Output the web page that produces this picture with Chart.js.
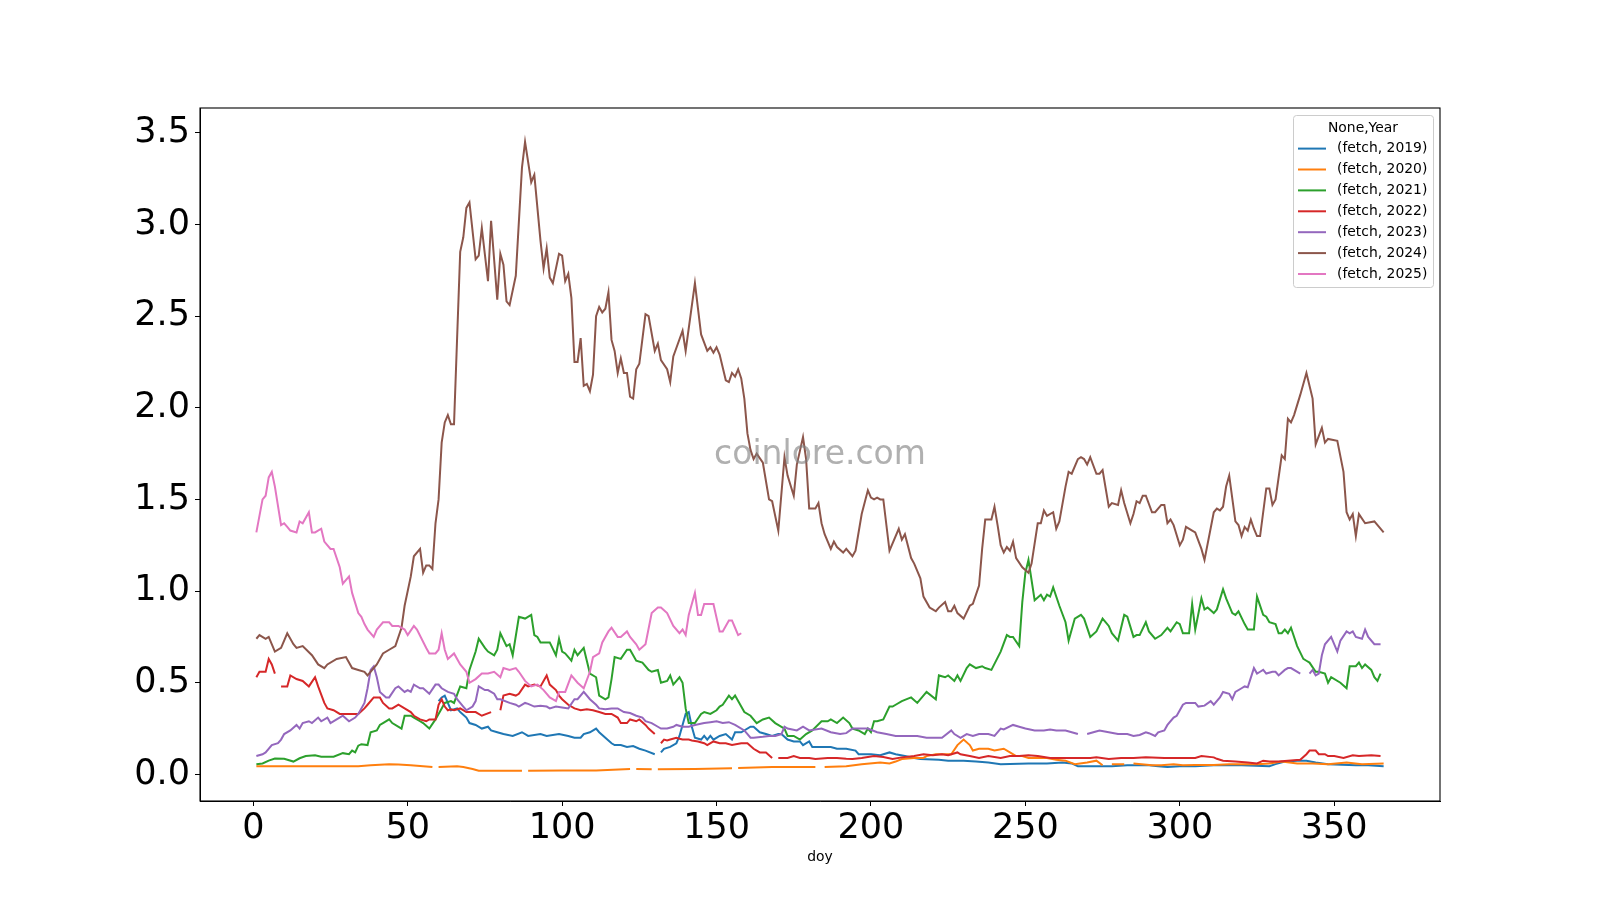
<!DOCTYPE html>
<html>
<head>
<meta charset="utf-8">
<script src="https://cdn.jsdelivr.net/npm/chart.js@4.4.1/dist/chart.umd.min.js"></script>
<style>
body{margin:0;background:#fff;}
canvas{display:block;}
</style>
</head>
<body>
<canvas id="mainChart" width="1600" height="900"></canvas>
<script>

/* DATA (day of year, value); null = missing day */

const xTicks = [0,50,100,150,200,250,300,350];
const yTicks = [0,0.5,1,1.5,2,2.5,3,3.5];

const seriesNames = ["(fetch, 2019)","(fetch, 2020)","(fetch, 2021)","(fetch, 2022)","(fetch, 2023)","(fetch, 2024)","(fetch, 2025)"];

const days2019 = [60,61,62,63,64,66,67,69,70,72,74,76,77,79,81,84,87,89,93,95,99,102,104,106,107,109,111,112,114,116,117,119,121,123,125,127,130,131,132,133,135,137,138,139,140,141,142,143,145,146,147,148,149,151,153,155,156,158,161,162,164,166,168,170,171,173,175,177,178,180,181,183,187,189,192,195,196,200,203,206,208,211,214,216,222,225,230,234,238,242,251,257,262,265,267,274,278,283,290,293,296,300,305,311,320,329,331,334,338,341,344,348,357,361,366];
const fetch2019 = [0.40,0.42,0.43,0.39,0.35,0.36,0.34,0.31,0.28,0.27,0.25,0.26,0.24,0.23,0.22,0.21,0.23,0.21,0.22,0.21,0.22,0.21,0.20,0.20,0.22,0.23,0.25,0.23,0.20,0.17,0.16,0.16,0.15,0.155,0.14,0.13,0.11,null,0.12,0.14,0.15,0.17,0.21,0.27,0.33,0.34,0.26,0.20,0.19,0.21,0.19,0.21,0.19,0.21,0.22,0.19,0.23,0.23,0.26,0.26,0.23,0.22,0.21,0.22,0.22,0.19,0.18,0.18,0.16,0.18,0.15,0.15,0.15,0.14,0.14,0.13,0.11,0.11,0.105,0.12,0.11,0.10,0.09,0.084,0.08,0.075,0.075,0.07,0.065,0.056,0.06,0.06,0.065,0.06,0.044,0.044,0.045,0.05,0.05,0.045,0.04,0.044,0.044,0.05,0.05,0.045,0.056,0.07,0.075,0.075,0.065,0.056,0.05,0.05,0.045];

const days2020 = [1,10,20,30,34,38,44,47,51,55,58,59,60,66,68,71,73,79,87,88,89,100,111,122,123,124,129,130,131,143,155,156,157,168,176,182,183,185,192,197,203,206,208,210,214,217,218,221,226,228,230,232,233,235,238,240,243,245,247,249,251,257,260,263,266,270,273,275,276,278,282,283,285,291,294,298,301,305,311,316,325,329,333,338,343,348,354,359,366];
const fetch2020 = [0.044,0.044,0.044,0.044,0.045,0.05,0.056,0.054,0.05,0.045,0.04,null,0.04,0.044,0.04,0.03,0.02,0.02,0.02,null,0.02,0.022,0.022,0.03,null,0.03,0.028,null,0.028,0.03,0.033,null,0.035,0.04,0.04,0.04,null,0.04,0.045,0.056,0.065,0.06,0.07,0.084,0.09,0.09,0.10,0.11,0.11,0.16,0.19,0.16,0.13,0.14,0.14,0.13,0.14,0.12,0.10,0.10,0.09,0.09,0.08,0.075,0.056,0.065,0.075,0.05,null,0.056,0.055,null,0.06,0.05,0.05,0.056,0.05,0.052,0.052,0.056,0.056,0.06,0.07,0.06,0.06,0.056,0.065,0.056,0.06];

const days2021 = [1,3,5,7,10,13,15,17,20,22,26,29,31,32,33,34,35,37,38,40,41,42,44,45,48,49,51,52,54,55,57,59,61,62,64,65,67,69,70,72,73,75,76,78,79,80,82,83,84,86,88,90,91,92,93,94,96,98,99,100,101,103,104,105,107,108,109,111,112,114,115,116,117,119,121,122,124,126,128,129,131,132,134,135,136,138,139,140,141,143,145,146,148,150,151,152,154,155,156,158,159,161,163,165,167,169,172,173,175,177,179,181,184,186,187,189,191,193,194,196,198,199,200,201,202,204,206,207,208,210,213,215,218,221,222,224,225,227,228,229,231,232,234,236,237,239,242,244,245,246,248,249,250,251,253,255,256,257,258,259,261,263,264,266,268,269,271,273,275,277,278,280,282,283,285,286,287,289,290,292,294,296,297,299,300,301,303,304,305,307,308,309,311,312,314,315,317,318,319,321,322,324,325,327,328,329,331,332,333,334,335,336,338,340,341,342,344,345,347,348,349,352,354,355,357,358,359,360,362,363,364,365];
const fetch2021 = [0.056,0.06,0.075,0.087,0.085,0.07,0.088,0.10,0.104,0.097,0.097,0.116,0.11,0.13,0.12,0.157,0.165,0.16,0.23,0.24,0.27,0.28,0.30,0.28,0.25,0.32,0.32,0.31,0.29,0.28,0.25,0.30,0.36,0.39,0.40,0.39,0.48,0.47,0.57,0.67,0.74,0.69,0.67,0.65,0.68,0.77,0.70,0.71,0.65,0.86,0.85,0.87,0.76,0.75,0.72,0.72,0.72,0.65,0.74,0.67,0.66,0.62,0.68,0.65,0.69,0.62,0.55,0.53,0.43,0.41,0.42,0.52,0.64,0.63,0.68,0.68,0.62,0.61,0.57,0.56,0.57,0.50,0.51,0.54,0.49,0.53,0.50,0.36,0.28,0.28,0.33,0.34,0.33,0.35,0.37,0.38,0.43,0.41,0.43,0.37,0.34,0.32,0.28,0.30,0.31,0.28,0.25,0.21,0.21,0.19,0.22,0.24,0.29,0.29,0.30,0.28,0.31,0.28,0.25,0.24,0.22,0.25,0.23,0.29,0.29,0.30,0.37,0.37,0.38,0.40,0.42,0.39,0.45,0.41,0.54,0.53,0.54,0.51,0.54,0.51,0.58,0.60,0.58,0.59,0.58,0.57,0.67,0.76,0.75,0.75,0.70,0.94,1.10,1.17,0.95,0.98,0.95,0.98,0.97,1.02,0.92,0.83,0.73,0.85,0.87,0.85,0.75,0.78,0.85,0.81,0.77,0.73,0.87,0.86,0.75,0.76,0.76,0.83,0.78,0.74,0.76,0.80,0.78,0.83,0.82,0.77,0.77,0.93,0.79,0.96,0.90,0.91,0.88,0.90,1.01,0.96,0.88,0.87,0.89,0.82,0.79,0.79,0.97,0.87,0.86,0.83,0.82,0.77,0.77,0.79,0.77,0.80,0.70,0.63,0.62,0.61,0.56,0.56,0.55,0.50,0.53,0.50,0.47,0.59,0.59,0.61,0.58,0.60,0.57,0.53,0.51,0.55];

const days2022 = [1,2,4,5,6,7,8,9,11,12,14,16,18,20,21,23,24,26,28,32,34,36,37,39,41,42,44,45,47,49,51,52,54,56,57,59,60,61,62,63,64,65,67,69,72,74,77,78,80,81,83,85,86,88,89,91,93,95,96,98,99,100,102,104,106,108,110,112,114,116,118,119,121,122,124,125,127,128,130,131,132,133,134,135,137,138,139,141,142,144,146,147,149,151,153,155,158,160,162,164,166,168,169,170,173,175,177,180,182,186,189,192,194,197,201,204,207,210,214,217,220,223,225,228,229,232,235,238,242,245,248,251,254,258,262,266,271,273,277,281,285,289,295,299,305,307,311,312,314,318,322,325,327,329,332,335,339,341,342,344,345,347,348,350,353,356,358,362,365];
const fetch2022 = [0.53,0.56,0.56,0.63,0.60,0.55,null,0.48,0.48,0.54,0.52,0.51,0.48,0.53,0.48,0.39,0.36,0.35,0.33,0.33,0.33,0.36,0.38,0.42,0.42,0.39,0.36,0.36,0.38,0.36,0.34,0.32,0.30,0.29,0.30,0.30,0.38,0.41,0.37,0.35,0.355,0.35,0.36,0.34,0.34,0.32,0.34,null,0.35,0.43,0.44,0.43,0.44,0.49,0.48,0.49,0.48,0.54,0.49,0.46,0.43,0.41,0.38,0.36,0.35,0.355,0.35,0.34,0.33,0.33,0.31,0.28,0.28,0.30,0.29,0.30,0.27,0.25,0.22,null,0.17,0.19,0.185,0.19,0.20,0.195,0.19,0.19,0.185,0.18,0.17,0.16,0.18,0.17,0.17,0.16,0.17,0.17,0.14,0.12,0.12,0.09,null,0.09,0.09,0.10,0.09,0.09,0.084,0.09,0.09,0.085,0.084,0.09,0.10,0.095,0.084,0.093,0.10,0.11,0.105,0.11,0.105,0.12,0.11,0.10,0.09,0.10,0.09,0.10,0.10,0.105,0.10,0.09,0.09,0.09,0.09,0.093,0.084,0.09,0.09,0.093,0.09,0.09,0.09,0.10,0.093,0.085,0.075,0.07,0.065,0.06,0.075,0.07,0.07,0.075,0.08,0.11,0.13,0.13,0.11,0.11,0.10,0.10,0.09,0.105,0.10,0.105,0.10];

const days2023 = [1,3,4,6,8,9,10,12,14,15,16,18,19,21,22,24,25,27,29,31,33,34,36,37,38,39,40,41,43,44,46,47,49,50,51,52,54,55,57,59,60,61,63,65,66,68,69,71,72,73,75,76,78,79,80,83,85,86,88,89,91,93,95,96,98,100,102,104,105,107,109,111,112,114,116,118,120,122,124,126,127,129,131,132,134,136,137,139,141,143,146,148,150,152,154,156,159,161,162,165,167,169,171,172,173,176,178,180,184,187,190,192,194,197,199,202,205,208,211,215,218,221,223,226,227,229,231,233,235,238,240,242,243,246,248,250,253,256,258,260,263,265,267,268,270,272,274,277,280,283,285,287,289,290,292,293,295,296,298,299,301,302,305,306,308,310,311,313,314,316,317,318,320,321,322,324,325,326,327,328,330,331,332,334,335,336,339,340,342,343,344,345,346,347,349,351,352,354,355,356,357,359,360,361,363,365];
const fetch2023 = [0.10,0.11,0.12,0.16,0.17,0.19,0.22,0.24,0.27,0.25,0.28,0.29,0.28,0.31,0.29,0.31,0.28,0.30,0.32,0.29,0.31,0.33,0.39,0.47,0.57,0.59,0.53,0.45,0.42,0.42,0.47,0.48,0.45,0.46,0.45,0.49,0.47,0.47,0.44,0.49,0.49,0.47,0.45,0.44,0.41,0.37,0.35,0.37,0.40,0.48,0.46,0.46,0.44,0.41,0.41,0.39,0.38,0.37,0.39,0.385,0.37,0.375,0.37,0.36,0.37,0.365,0.36,0.41,0.41,0.45,0.41,0.38,0.36,0.355,0.36,0.36,0.34,0.335,0.32,0.31,0.29,0.28,0.26,0.25,0.25,0.26,0.27,0.26,0.26,0.27,0.28,0.285,0.29,0.28,0.285,0.27,0.24,0.20,0.20,0.205,0.21,0.21,0.22,0.26,0.25,0.24,0.26,0.24,0.25,0.23,0.22,0.225,0.25,0.25,0.25,0.23,0.22,0.21,0.21,0.21,0.20,0.20,0.20,0.24,0.22,0.20,0.22,0.21,0.22,0.22,0.21,0.25,0.245,0.27,0.26,0.25,0.24,0.24,0.245,0.24,0.24,0.23,0.22,null,0.22,0.23,0.24,0.23,0.22,0.22,0.21,0.215,0.23,0.225,0.21,0.23,0.24,0.27,0.31,0.32,0.38,0.39,0.39,0.37,0.375,0.40,0.38,0.42,0.45,0.44,0.41,0.45,0.47,0.48,0.475,0.58,0.55,0.56,0.57,0.55,0.56,0.56,0.54,0.57,0.58,0.58,0.55,null,0.55,0.57,0.54,0.55,0.65,0.71,0.75,0.67,0.73,0.78,0.77,0.78,0.75,0.74,0.79,0.75,0.71,0.71];

const days2024 = [1,2,4,5,7,9,11,13,14,16,19,21,23,24,27,30,32,34,36,37,40,42,44,46,48,49,51,52,54,55,56,57,58,59,60,61,62,63,64,65,67,68,69,70,72,73,74,76,77,79,80,81,82,83,85,87,88,90,91,93,94,95,96,97,99,100,101,102,103,104,105,106,107,108,109,110,111,112,113,114,115,116,117,118,119,120,121,122,123,124,125,127,128,130,131,132,134,135,136,139,140,143,145,147,148,149,150,151,153,154,155,156,157,158,159,160,161,162,163,165,167,168,170,172,173,175,176,178,179,180,182,183,184,185,187,188,189,191,192,194,195,197,199,200,201,202,203,204,206,209,210,211,213,214,216,217,219,220,221,222,224,225,226,227,228,230,232,233,235,236,237,239,240,241,242,243,244,245,246,247,249,251,252,254,255,256,257,259,260,261,263,264,265,267,268,269,270,271,273,274,275,277,278,280,281,282,284,285,286,287,288,289,291,292,294,295,296,297,298,300,301,302,304,305,307,308,311,312,313,314,315,316,318,319,320,321,322,323,324,325,326,328,329,330,331,333,334,335,336,337,339,341,343,344,346,347,348,351,353,354,355,356,357,358,360,363,366];
const fetch2024 = [0.74,0.76,0.74,0.75,0.67,0.69,0.77,0.71,0.69,0.70,0.65,0.60,0.58,0.60,0.63,0.64,0.58,0.57,0.56,0.54,0.60,0.66,0.68,0.70,0.80,0.92,1.08,1.19,1.23,1.10,1.14,1.14,1.12,1.37,1.50,1.81,1.92,1.96,1.91,1.91,2.85,2.93,3.09,3.12,2.81,2.83,2.98,2.69,3.02,2.59,2.84,2.78,2.58,2.56,2.72,3.31,3.45,3.23,3.27,2.91,2.76,2.87,2.71,2.68,2.84,2.83,2.69,2.73,2.60,2.25,2.25,2.38,2.12,2.13,2.09,2.18,2.50,2.55,2.52,2.54,2.63,2.37,2.31,2.19,2.27,2.19,2.19,2.06,2.05,2.21,2.24,2.51,2.50,2.31,2.35,2.26,2.21,2.14,2.28,2.42,2.31,2.68,2.40,2.31,2.33,2.30,2.33,2.29,2.15,2.14,2.19,2.17,2.21,2.16,2.05,1.86,1.77,1.72,1.75,1.70,1.50,1.49,1.33,1.73,1.63,1.52,1.69,1.84,1.72,1.45,1.45,1.48,1.37,1.31,1.23,1.27,1.24,1.21,1.23,1.19,1.22,1.42,1.55,1.51,1.50,1.51,1.50,1.50,1.22,1.34,1.28,1.31,1.18,1.15,1.07,0.97,0.91,0.90,0.89,0.91,0.94,0.89,0.89,0.92,0.88,0.85,0.92,0.93,1.03,1.23,1.39,1.39,1.46,1.36,1.25,1.21,1.24,1.22,1.27,1.18,1.13,1.10,1.15,1.37,1.37,1.44,1.41,1.43,1.34,1.38,1.57,1.65,1.64,1.72,1.73,1.72,1.69,1.73,1.64,1.64,1.66,1.46,1.48,1.47,1.55,1.48,1.37,1.42,1.49,1.48,1.52,1.52,1.43,1.43,1.47,1.47,1.37,1.39,1.36,1.25,1.28,1.35,1.33,1.32,1.23,1.17,1.43,1.45,1.44,1.46,1.57,1.63,1.38,1.36,1.30,1.35,1.33,1.39,1.34,1.30,1.30,1.56,1.56,1.47,1.50,1.74,1.72,1.94,1.92,1.96,2.07,2.19,2.05,1.80,1.89,1.81,1.83,1.82,1.65,1.43,1.39,1.42,1.30,1.42,1.37,1.38,1.32];

const days2025 = [1,3,4,5,6,7,9,10,11,12,14,15,16,18,19,20,22,23,25,26,28,29,31,32,34,35,36,37,39,40,42,44,45,47,49,50,52,53,56,57,59,60,61,62,63,65,67,69,70,72,74,76,78,80,81,83,85,86,88,90,92,94,96,98,99,101,103,105,107,109,110,112,113,115,116,118,119,121,122,124,125,127,129,131,132,134,136,138,139,140,141,143,144,145,146,147,149,151,152,154,155,156,157,158];
const fetch2025 = [1.32,1.50,1.52,1.62,1.65,1.57,1.36,1.37,1.35,1.33,1.32,1.38,1.37,1.43,1.32,1.32,1.34,1.27,1.23,1.23,1.13,1.04,1.08,0.99,0.88,0.86,0.82,0.79,0.75,0.79,0.83,0.83,0.81,0.81,0.79,0.76,0.81,0.79,0.69,0.66,0.66,0.68,0.77,0.68,0.63,0.66,0.60,0.56,0.50,0.52,0.55,0.55,0.56,0.53,0.58,0.57,0.58,0.56,0.51,0.48,0.49,0.46,0.42,0.40,0.45,0.45,0.54,0.50,0.47,0.56,0.64,0.66,0.72,0.78,0.80,0.75,0.75,0.78,0.75,0.71,0.68,0.71,0.88,0.91,0.91,0.88,0.81,0.77,0.79,0.76,0.87,0.99,0.87,0.87,0.93,0.93,0.93,0.78,0.78,0.84,0.84,0.80,0.76,0.77];

const allDays = [days2019,days2020,days2021,days2022,days2023,days2024,days2025];
const allValues = [fetch2019,fetch2020,fetch2021,fetch2022,fetch2023,fetch2024,fetch2025];
const colors = ["#1f77b4","#ff7f0e","#2ca02c","#d62728","#9467bd","#8c564b","#e377c2"];

/* DATASETS */

const datasets = seriesNames.map((name,i)=>({
label:name,
data:allDays[i].map((d,j)=>({x:d,y:allValues[i][j]})),
borderColor:colors[i],
backgroundColor:colors[i],
borderWidth:2,
pointRadius:0,
tension:0,
spanGaps:false,
order:6-i
}));

/* FRAME, WATERMARK, LEGEND */

const framePlugin = {
id:"frame",
afterDatasetsDraw(chart){
const c = chart.ctx;
const a = chart.chartArea;
c.save();
c.font = "33px 'DejaVu Sans'";
c.fillStyle = "rgba(128,128,128,0.62)";
c.textAlign = "center";
c.textBaseline = "middle";
c.fillText("coinlore.com",(a.left+a.right)/2,(a.top+a.bottom)/2+1);
c.strokeStyle = "#000";
c.lineWidth = 1.1;
c.strokeRect(a.left,a.top,a.right-a.left,a.bottom-a.top);
c.restore();
},
afterDraw(chart){
const c = chart.ctx;
c.save();
const bx = 1293, by = 115, bw = 140, bh = 172;
c.fillStyle = "rgba(255,255,255,0.85)";
c.strokeStyle = "#cccccc";
c.lineWidth = 1;
c.beginPath();
c.roundRect(bx+0.5,by+0.5,bw,bh,3);
c.fill();
c.stroke();
c.font = "13.9px 'DejaVu Sans'";
c.fillStyle = "#000";
c.textBaseline = "middle";
c.textAlign = "center";
c.fillText("None,Year",bx+bw/2,128);
c.textAlign = "left";
seriesNames.forEach((name,i)=>{
const y = 148.6 + i*20.9;
c.strokeStyle = colors[i];
c.lineWidth = 2;
c.beginPath();
c.moveTo(1298,y);
c.lineTo(1326,y);
c.stroke();
c.fillText(name,1337,y);
});
c.restore();
}
};

/* CHART */

const ctx = document.getElementById("mainChart");

const chart = new Chart(ctx,{
type:"line",
data:{datasets:datasets},
options:{
responsive:false,
animation:false,
devicePixelRatio:1,
layout:{padding:{top:108,right:160,left:0,bottom:0}},
plugins:{
legend:{display:false},
tooltip:{enabled:false}
},
scales:{
x:{
type:"linear",
min:-17.25,
max:384.25,
afterBuildTicks:(s)=>{ s.ticks = xTicks.map(v=>({value:v})); },
afterFit:(s)=>{ s.height = 99; },
grid:{drawOnChartArea:false,drawTicks:true,tickLength:5,color:"#000"},
border:{display:true,color:"#000",width:1},
ticks:{
color:"#000",
padding:2,
maxRotation:0,
font:{family:"DejaVu Sans",size:35},
callback:(v)=>String(v)
},
title:{
display:true,
text:"doy",
color:"#000",
font:{family:"DejaVu Sans",size:13.9},
padding:{top:0,bottom:34}
}
},
y:{
type:"linear",
min:-0.145,
max:3.635,
afterBuildTicks:(s)=>{ s.ticks = yTicks.map(v=>({value:v})); },
afterFit:(s)=>{ s.width = 200; },
grid:{drawOnChartArea:false,drawTicks:true,tickLength:5,color:"#000"},
border:{display:true,color:"#000",width:1},
ticks:{
color:"#000",
padding:5,
font:{family:"DejaVu Sans",size:35},
callback:(v)=>Number(v).toFixed(1)
}
}
}
},
plugins:[framePlugin]
});

</script>
</body>
</html>
